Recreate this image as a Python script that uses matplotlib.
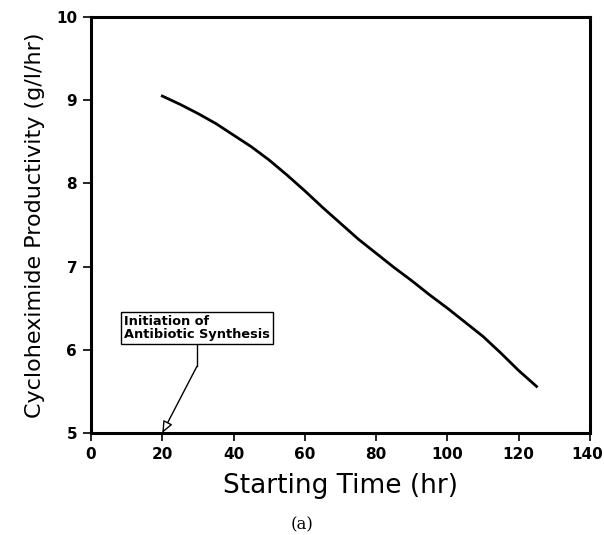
import matplotlib
matplotlib.use('Agg')
import matplotlib.pyplot as plt
import matplotlib.transforms as mtransforms

# Starting time (hr) and productivity (g/l/hr)
start_time = [20, 25, 30, 35, 40, 45, 50, 55, 60, 65, 70, 75,
              80, 85, 90, 95, 100, 105, 110, 115, 120, 125]
productivity = [9.05, 8.95, 8.84, 8.72, 8.58, 8.44, 8.28, 8.10, 7.91, 7.71, 7.52, 7.33,
                7.16, 6.99, 6.83, 6.66, 6.50, 6.33, 6.16, 5.96, 5.75, 5.56]

x_ticks = [0, 20, 40, 60, 80, 100, 120, 140]
y_ticks = [5, 6, 7, 8, 9, 10]

fig = plt.figure(figsize=(6.04, 5.35), dpi=100)
ax = fig.add_axes([0.1507, 0.1907, 0.8261, 0.7775])

ax.plot(start_time, productivity, color='black', lw=2)

ax.set_xlim(0, 140)
ax.set_ylim(5, 10)
ax.set_xticks(x_ticks)
ax.set_yticks(y_ticks)
ax.tick_params(direction='out', length=6, width=1.2, labelsize=11, pad=4)
for lab in ax.get_xticklabels() + ax.get_yticklabels():
    lab.set_fontweight('bold')
# nudge the last x label so it stays inside the canvas
last = ax.get_xticklabels()[-1]
last.set_transform(last.get_transform() +
                   mtransforms.ScaledTranslation(-3 / 100, 0, fig.dpi_scale_trans))
for sp in ax.spines.values():
    sp.set_linewidth(2.2)

ax.set_xlabel('Starting Time (hr)', fontsize=19, labelpad=8)
ax.set_ylabel('Cycloheximide Productivity (g/l/hr)', fontsize=16, labelpad=8)

# annotation: box, short vertical leader, then arrow to x=20 on the axis
ax.text(9.3, 6.26, 'Initiation of\nAntibiotic Synthesis', fontsize=9.3, fontweight='bold',
        va='center', ha='left', linespacing=1.0,
        bbox=dict(boxstyle='square,pad=0.25', fc='white', ec='black', lw=1))
ax.plot([29.7, 29.7], [6.09, 5.80], color='black', lw=1)
ax.annotate('', xy=(20, 5.0), xytext=(29.7, 5.80),
            arrowprops=dict(arrowstyle='-|>,head_length=0.7,head_width=0.3',
                            fc='white', ec='black', lw=1, shrinkA=0, shrinkB=0))

fig.text(0.5, 0.019, '(a)', fontsize=12, family='DejaVu Serif', ha='center', va='center')

fig.savefig('out.png', dpi=100)
